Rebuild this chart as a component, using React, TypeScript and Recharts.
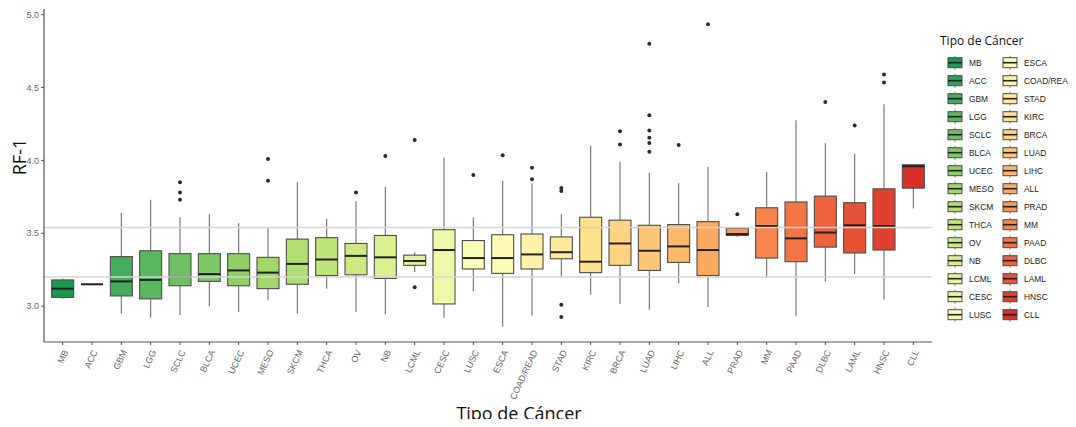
import React from 'react';
import { ComposedChart, Bar, XAxis, YAxis, ReferenceLine } from 'recharts';

// RF-1 distribution per cancer type (five-number summary + outliers)
const categories = [
  'MB', 'ACC', 'GBM', 'LGG', 'SCLC', 'BLCA', 'UCEC', 'MESO', 'SKCM', 'THCA',
  'OV', 'NB', 'LCML', 'CESC', 'LUSC', 'ESCA', 'COAD/READ', 'STAD', 'KIRC', 'BRCA',
  'LUAD', 'LIHC', 'ALL', 'PRAD', 'MM', 'PAAD', 'DLBC', 'LAML', 'HNSC', 'CLL',
];
const mins = [
  3.05, 3.15, 2.95, 2.92, 2.94, 3.0, 2.96, 3.04, 2.95, 3.12,
  2.96, 2.945, 3.235, 2.92, 3.1, 2.86, 2.935, 3.2, 3.08, 3.015,
  2.975, 3.155, 2.995, 3.475, 3.195, 2.93, 3.17, 3.22, 3.045, 3.67,
];
const q1s = [
  3.06, 3.15, 3.07, 3.05, 3.14, 3.17, 3.14, 3.12, 3.15, 3.21,
  3.215, 3.19, 3.28, 3.015, 3.255, 3.225, 3.255, 3.325, 3.23, 3.28,
  3.245, 3.3, 3.21, 3.485, 3.33, 3.305, 3.405, 3.365, 3.385, 3.81,
];
const medians = [
  3.12, 3.15, 3.17, 3.18, 3.2, 3.22, 3.245, 3.23, 3.29, 3.32,
  3.345, 3.335, 3.31, 3.385, 3.33, 3.33, 3.355, 3.37, 3.305, 3.43,
  3.38, 3.41, 3.385, 3.495, 3.55, 3.465, 3.505, 3.555, 3.55, 3.96,
];
const q3s = [
  3.18, 3.15, 3.34, 3.38, 3.36, 3.36, 3.36, 3.335, 3.46, 3.47,
  3.43, 3.485, 3.35, 3.525, 3.45, 3.49, 3.495, 3.475, 3.61, 3.59,
  3.555, 3.56, 3.58, 3.535, 3.675, 3.715, 3.755, 3.71, 3.805, 3.97,
];
const maxs = [
  3.19, 3.15, 3.64, 3.73, 3.61, 3.63, 3.57, 3.54, 3.85, 3.6,
  3.72, 3.82, 3.37, 4.02, 3.61, 3.86, 3.84, 3.63, 4.1, 3.99,
  3.915, 3.845, 3.955, 3.545, 3.92, 4.275, 4.12, 4.045, 4.385, 3.97,
];
const outliers: number[][] = [
  [], [], [], [], [3.73, 3.78, 3.85], [], [], [3.86, 4.01], [], [],
  [3.78], [4.03], [3.13, 4.14], [], [3.9], [4.035], [3.87, 3.95], [2.925, 3.01, 3.79, 3.81], [], [4.11, 4.2],
  [4.06, 4.12, 4.155, 4.205, 4.31, 4.8], [4.105], [4.935], [3.63], [], [], [4.4], [4.24], [4.535, 4.59], [],
];
const yTicks = [3.0, 3.5, 4.0, 4.5, 5.0];
const guideLines = [3.54, 3.2];
const Y_DOMAIN: [number, number] = [2.754, 5.039];

// green -> yellow -> red ramp (RdYlGn stops)
const rampStops = ['#1a9850', '#66bd63', '#a6d96a', '#d9ef8b', '#ffffbf', '#fee08b', '#fdae61', '#f46d43', '#d73027'];
const hexToRgb = (h: string) => [1, 3, 5].map((i) => parseInt(h.slice(i, i + 2), 16));
const rampColor = (t: number) => {
  const p = t * (rampStops.length - 1);
  const i = Math.min(Math.floor(p), rampStops.length - 2);
  const f = p - i;
  const a = hexToRgb(rampStops[i]);
  const b = hexToRgb(rampStops[i + 1]);
  const c = a.map((v, k) => Math.round(v + (b[k] - v) * f));
  return `rgb(${c[0]},${c[1]},${c[2]})`;
};
const colors = categories.map((_, i) => rampColor(i / (categories.length - 1)));

const data = categories.map((name, i) => ({
  name,
  min: mins[i],
  q1: q1s[i],
  median: medians[i],
  q3: q3s[i],
  max: maxs[i],
  out: outliers[i],
  color: colors[i],
  span: Y_DOMAIN,
}));

const BOX_STROKE = '#4d4d4d';
const WHISKER = '#6e6e6e';

const BoxShape = (props: any) => {
  const { x, y, width, height, payload } = props;
  const top = Math.min(y, y + height);
  const h = Math.abs(height);
  const py = (v: number) => top + ((Y_DOMAIN[1] - v) / (Y_DOMAIN[1] - Y_DOMAIN[0])) * h;
  const cx = x + width / 2;
  const d = payload;
  if (d.min === d.max) {
    return (
      <g>
        <line x1={x} x2={x + width} y1={py(d.median)} y2={py(d.median)} stroke="#222" strokeWidth={2} />
      </g>
    );
  }
  return (
    <g>
      <line x1={cx} x2={cx} y1={py(d.max)} y2={py(d.q3)} stroke={WHISKER} strokeWidth={1.1} />
      <line x1={cx} x2={cx} y1={py(d.q1)} y2={py(d.min)} stroke={WHISKER} strokeWidth={1.1} />
      <rect
        x={x}
        y={py(d.q3)}
        width={width}
        height={py(d.q1) - py(d.q3)}
        fill={d.color}
        stroke={BOX_STROKE}
        strokeWidth={1.1}
      />
      <line x1={x} x2={x + width} y1={py(d.median)} y2={py(d.median)} stroke="#222" strokeWidth={2} />
      {d.out.map((v: number, k: number) => (
        <circle key={k} cx={cx} cy={py(v)} r={2} fill="#2b2b2b" />
      ))}
    </g>
  );
};

const XTick = (props: any) => {
  const { x, y, payload } = props;
  const ay = y + 2;
  return (
    <text
      x={x}
      y={ay}
      dy="0.72em"
      textAnchor="end"
      fontSize={9}
      fontFamily="'Liberation Sans', Arial, sans-serif"
      fill="#666"
      transform={`rotate(-65, ${x}, ${ay})`}
    >
      {payload.value}
    </text>
  );
};

const Legend = () => {
  const rowsPerCol = 15;
  return (
    <svg width={146} height={330} style={{ position: 'absolute', left: 930, top: 0 }}>
      <text x={10} y={45} fontSize={12} fontFamily="'Open Sans', sans-serif" fill="#111">
        Tipo de Cáncer
      </text>
      {categories.map((name, i) => {
        const col = Math.floor(i / rowsPerCol);
        const row = i % rowsPerCol;
        const kx = 18 + col * 55;
        const cy = 62.7 + row * 18;
        return (
          <g key={name}>
            <line x1={kx + 7} x2={kx + 7} y1={cy - 7} y2={cy + 7} stroke={WHISKER} strokeWidth={1} />
            <rect x={kx} y={cy - 5} width={14} height={10} fill={colors[i]} stroke={BOX_STROKE} strokeWidth={1} />
            <line x1={kx} x2={kx + 14} y1={cy} y2={cy} stroke="#222" strokeWidth={1.6} />
            <text
              x={kx + 21}
              y={cy + 3.1}
              fontSize={8.4}
              fontFamily="'Liberation Sans', Arial, sans-serif"
              fill="#222"
            >
              {name}
            </text>
          </g>
        );
      })}
    </svg>
  );
};

export default function App() {
  return (
    <div style={{ margin: -8, position: 'relative', width: 1076, height: 427, background: '#fff' }}>
      <ComposedChart
        width={1076}
        height={427}
        data={data}
        margin={{ top: 9, right: 144, bottom: 0, left: 0 }}
        barCategoryGap="12.5%"
      >
        <XAxis
          dataKey="name"
          type="category"
          interval={0}
          height={85}
          padding={{ left: 4, right: 4 }}
          tick={<XTick />}
          tickSize={3}
          axisLine={{ stroke: '#555', strokeWidth: 1.2 }}
          tickLine={{ stroke: '#555' }}
        />
        <YAxis
          type="number"
          domain={Y_DOMAIN}
          allowDataOverflow
          ticks={yTicks}
          tickFormatter={(v: number) => v.toFixed(1)}
          width={44}
          tickSize={3}
          tickMargin={2}
          tick={{ fontSize: 9, fill: '#666', fontFamily: "'Liberation Sans', Arial, sans-serif" }}
          axisLine={{ stroke: '#555', strokeWidth: 1.2 }}
          tickLine={{ stroke: '#555' }}
        />
        <Bar dataKey="span" shape={<BoxShape />} isAnimationActive={false} />
        {guideLines.map((v) => (
          <ReferenceLine key={v} y={v} stroke="#d4d4d4" strokeWidth={1.5} />
        ))}
      </ComposedChart>
      <svg width={1076} height={427} style={{ position: 'absolute', left: 0, top: 0, pointerEvents: 'none' }}>
        <text
          x={19}
          y={157}
          fontSize={18}
          fontFamily="'Open Sans', sans-serif"
          fill="#111"
          textAnchor="middle"
          dominantBaseline="central"
          transform="rotate(-90, 19, 157)"
        >
          RF-1
        </text>
        <text x={519} y={420} fontSize={18} fontFamily="'Open Sans', sans-serif" fill="#111" textAnchor="middle">
          Tipo de Cáncer
        </text>
      </svg>
      <Legend />
    </div>
  );
}
